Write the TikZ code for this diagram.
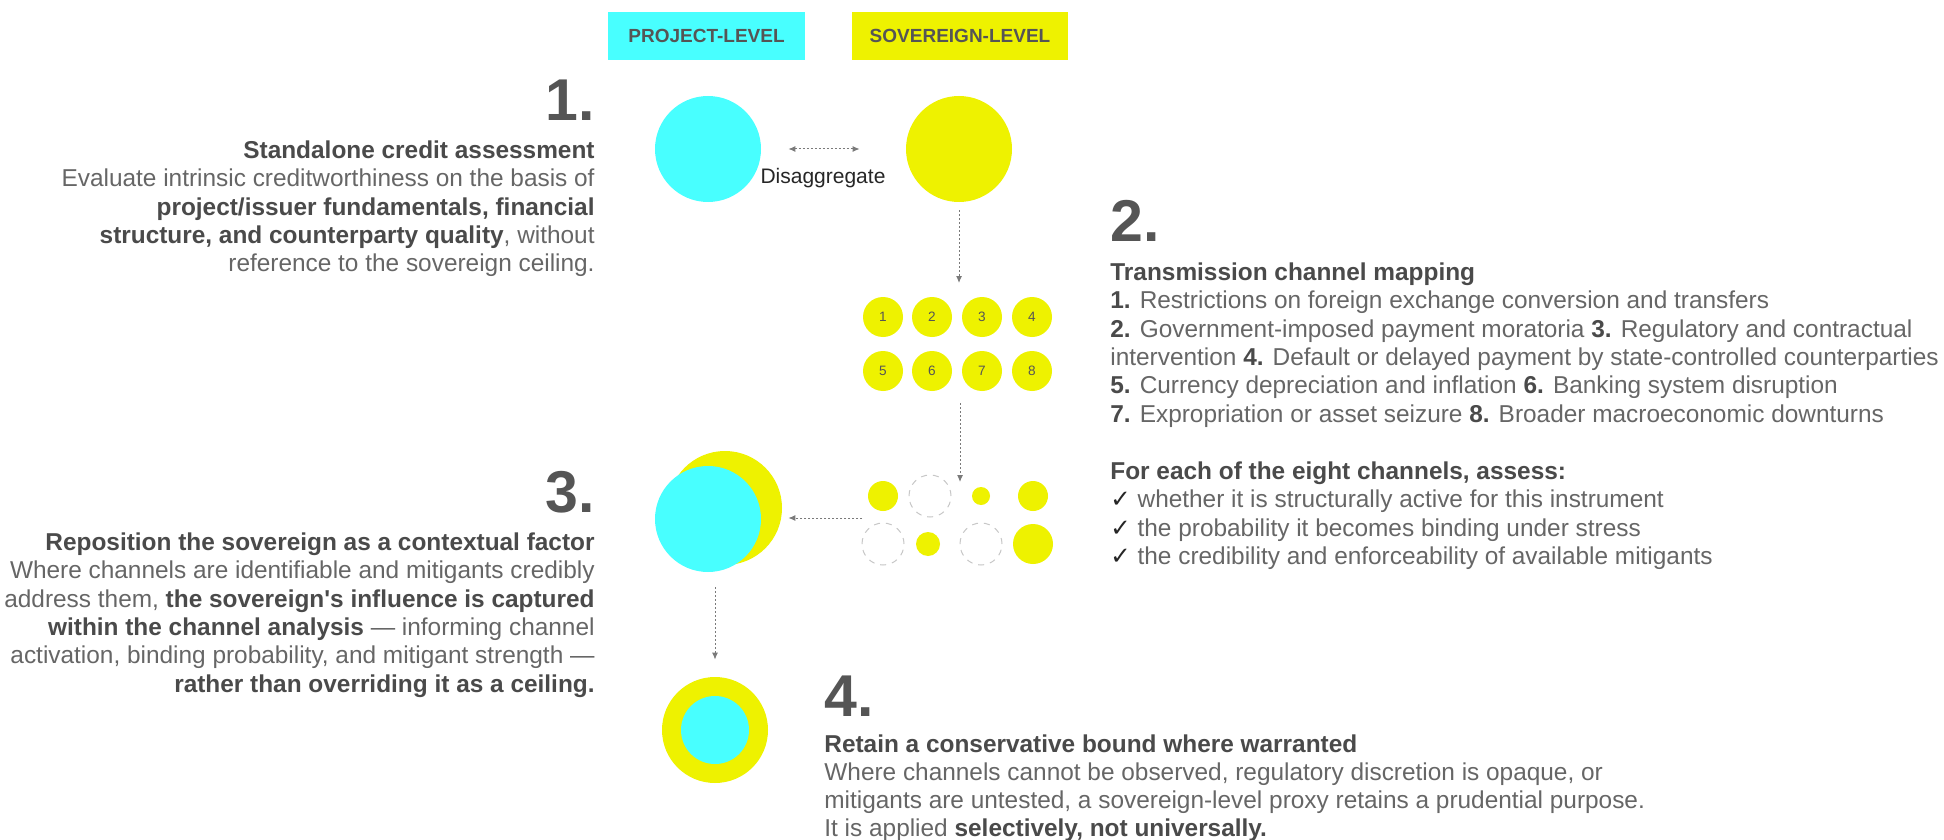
\documentclass[tikz,border=0pt]{standalone}
\usepackage{fontspec}
\setmainfont{Liberation Sans}
\newfontfamily\symfont{DejaVu Sans}
\usetikzlibrary{arrows.meta}

\definecolor{projcyan}{HTML}{48FFFF}
\definecolor{sovyellow}{HTML}{EEF200}
\definecolor{numgray}{HTML}{555555}
\definecolor{txtgray}{HTML}{666666}
\definecolor{boldgray}{HTML}{4A4A4A}
\definecolor{linkgray}{HTML}{7A7A7A}
\newcommand\keyterm[1]{\textcolor{boldgray}{\bfseries #1}}

\begin{document}
\begin{tikzpicture}[x=0.5pt, y=-0.5pt,
every node/.style={inner sep=0pt, text=txtgray},
bigno/.style={font=\fontsize{29.5}{29}\selectfont\bfseries, text=numgray},
blurb/.style={font=\fontsize{12.2}{14.2}\selectfont, align=#1},
tag/.style={fill=#1, minimum height=24pt, font=\fontsize{9.5}{10}\selectfont\bfseries, text=numgray},
proj/.style={circle, fill=projcyan, minimum size=#1pt},
sov/.style={circle, fill=sovyellow, minimum size=#1pt},
gone/.style={circle, draw=black!22, dashed, line width=0.5pt, minimum size=#1pt},
tip/.tip={Latex[length=3.5pt,width=3pt]},
link/.style={draw=linkgray, dash pattern=on 1pt off 1pt, line width=0.5pt, -tip}
]
\fill[white] (0,0) rectangle (1944,840);
\useasboundingbox (0,0) rectangle (1944,840);

\node[tag=projcyan, minimum width=98.5pt] (projtag) at (706.5,36) {PROJECT-LEVEL};
\node[tag=sovyellow, minimum width=108pt] (sovtag) at (960,36) {SOVEREIGN-LEVEL};

% step 1
\node[proj=53] (proj1) at (708,149) {};
\node[sov=53] (sov1) at (959,149) {};
\node[font=\fontsize{10.5}{11}\selectfont, text=black!85] (disagg) at (823,178) {Disaggregate};
\draw[link, tip-tip, shorten <=13.5pt, shorten >=23pt] (proj1) -- (sov1);

\node[bigno, anchor=base east] (n1) at (595,121) {1.};
\node[blurb=right, anchor=north east] (t1) at (595,138) {\strut\keyterm{Standalone credit assessment}\\
Evaluate intrinsic creditworthiness on the basis of\\
\keyterm{project/issuer fundamentals, financial}\\
\keyterm{structure, and counterparty quality}, without\\
reference to the sovereign ceiling.};

% step 2
\foreach \n/\x/\y in {1/883/317, 2/932/317, 3/982/317, 4/1032/317,
                      5/883/371, 6/932/371, 7/982/371, 8/1032/371}
    \node[sov=20, font=\fontsize{6.8}{7}\selectfont, text=numgray] (ch\n) at (\x,\y) {\n};

\coordinate (mapin) at (959,283);
\draw[link, shorten <=4pt] (sov1) -- (mapin);

\node[bigno, anchor=base west] (n2) at (1110,242) {2.};
\node[blurb=left, anchor=north west] (t2) at (1110,260) {\strut\keyterm{Transmission channel mapping}\\
\keyterm{1.} Restrictions on foreign exchange conversion and transfers\\
\keyterm{2.} Government-imposed payment moratoria \keyterm{3.} Regulatory and contractual\\
intervention \keyterm{4.} Default or delayed payment by state-controlled counterparties\\
\keyterm{5.} Currency depreciation and inflation \keyterm{6.} Banking system disruption\\
\keyterm{7.} Expropriation or asset seizure \keyterm{8.} Broader macroeconomic downturns};

\node[blurb=left, anchor=north west] (t2b) at (1110,459) {\strut\keyterm{For each of the eight channels, assess:}\\
{\symfont\color{black!85}✓} whether it is structurally active for this instrument\\
{\symfont\color{black!85}✓} the probability it becomes binding under stress\\
{\symfont\color{black!85}✓} the credibility and enforceability of available mitigants};

% filtered channels
\foreach \n/\x/\y/\r in {1/883/496/15, 3/981/496/9, 4/1033/496/15, 6/928/544/12, 8/1033/544/20}
    \node[sov=\r] (fc\n) at (\x,\y) {};
\foreach \n/\x/\y in {2/930/496, 5/883/544, 7/981/544}
    \node[gone=21] (fc\n) at (\x,\y) {};

\coordinate (mapout) at (960,403);
\coordinate (fltin) at (960,482);
\draw[link] (mapout) -- (fltin);

% step 3
\node[sov=57] (ctx) at (725,508) {};
\node[proj=53] (ctxp) at (708,519) {};
\coordinate (fltout) at (862,518);
\draw[link, shorten >=3pt] (fltout) -- (ctx.east |- fltout);

\node[bigno, anchor=base east] (n3) at (595,512) {3.};
\node[blurb=right, anchor=north east] (t3) at (595,530) {\strut\keyterm{Reposition the sovereign as a contextual factor}\\
Where channels are identifiable and mitigants credibly\\
address them, \keyterm{the sovereign\textquotesingle s influence is captured}\\
\keyterm{within the channel analysis} --- informing channel\\
activation, binding probability, and mitigant strength ---\\
\keyterm{rather than overriding it as a ceiling.}};

% step 4
\node[sov=53] (bound) at (715,730) {};
\node[proj=34] (boundp) at (715,730) {};
\draw[link, shorten <=11pt, shorten >=8.5pt] (bound.north |- ctx.south) -- (bound.north);

\node[bigno, anchor=base west] (n4) at (824,716) {4.};
\node[blurb=left, anchor=north west, font=\fontsize{12.2}{14}\selectfont] (t4) at (824,732) {\strut\keyterm{Retain a conservative bound where warranted}\\
Where channels cannot be observed, regulatory discretion is opaque, or\\
mitigants are untested, a sovereign-level proxy retains a prudential purpose.\\
It is applied \keyterm{selectively, not universally.}};
\end{tikzpicture}
\end{document}
